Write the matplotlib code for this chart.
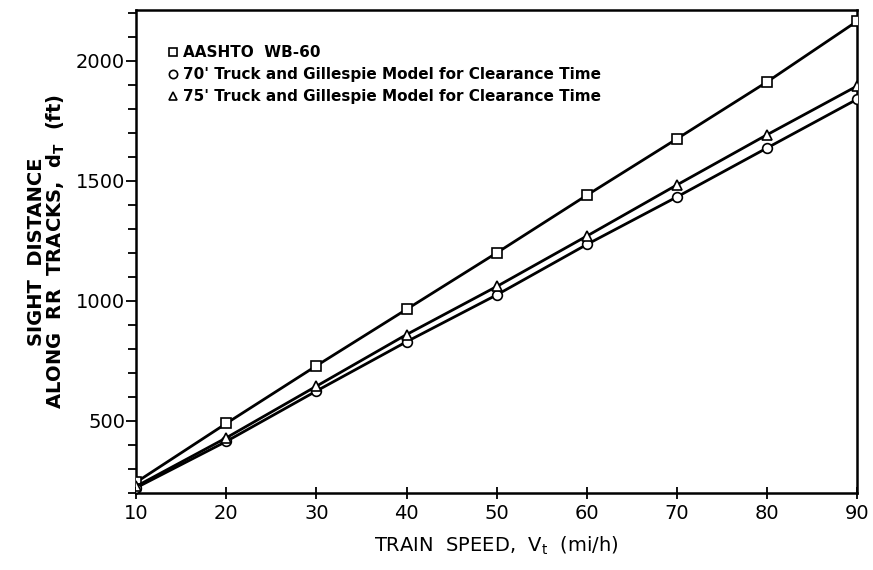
import matplotlib
matplotlib.use("Agg")
import matplotlib.pyplot as plt
from matplotlib.ticker import MultipleLocator

# train speed (mi/h)
speed = [10, 20, 30, 40, 50, 60, 70, 80, 90]

# sight distance along RR tracks (ft)
aashto_wb60 = [245, 490, 730, 965, 1200, 1440, 1675, 1912, 2165]
truck_70 = [222, 415, 625, 830, 1025, 1235, 1433, 1637, 1840]
truck_75 = [228, 430, 645, 860, 1060, 1270, 1483, 1692, 1895]

labels = [
    "AASHTO  WB-60",
    "70' Truck and Gillespie Model for Clearance Time",
    "75' Truck and Gillespie Model for Clearance Time",
]

plt.rcParams["font.family"] = ["DejaVu Sans"]

fig = plt.figure(figsize=(8.73, 5.70), dpi=100)
ax = fig.add_axes([0.156, 0.135, 0.826, 0.847])

style = dict(color="black", lw=2.0, markersize=7, markerfacecolor="white",
             markeredgecolor="black", markeredgewidth=1.2, zorder=3)
ax.plot(speed, aashto_wb60, marker="s", label=labels[0], **style)
ax.plot(speed, truck_70, marker="o", label=labels[1], **style)
ax.plot(speed, truck_75, marker="^", label=labels[2], **style)

ax.set_xlim(10, 90)
ax.set_ylim(200, 2210)
ax.xaxis.set_major_locator(MultipleLocator(10))
ax.yaxis.set_minor_locator(MultipleLocator(100))
ax.set_yticks([500, 1000, 1500, 2000])

ax.tick_params(axis="x", direction="inout", length=8, width=1.3, labelsize=14, pad=4)
ax.tick_params(axis="y", which="major", direction="out", length=7, width=1.3,
               labelsize=14, pad=1)
ax.tick_params(axis="y", which="minor", direction="out", length=6, width=1.3)
for s in ax.spines.values():
    s.set_linewidth(1.8)

ax.set_xlabel("TRAIN  SPEED,  V$_\\mathrm{t}$  (mi/h)", fontsize=14, labelpad=8)
ax.set_ylabel("SIGHT  DISTANCE\nALONG  RR  TRACKS,  d$_\\mathbf{T}$  (ft)",
              fontsize=14, fontweight="bold", labelpad=6, linespacing=0.95)

leg = ax.legend(loc="upper left", bbox_to_anchor=(0.035, 0.94), frameon=False,
                handlelength=0.7, handletextpad=0.3, labelspacing=0.45,
                borderaxespad=0.0, markerscale=0.85,
                prop={"size": 11, "weight": "bold"})
for h in leg.legend_handles:
    h.set_linestyle("none")

fig.savefig("out.png", dpi=100)
